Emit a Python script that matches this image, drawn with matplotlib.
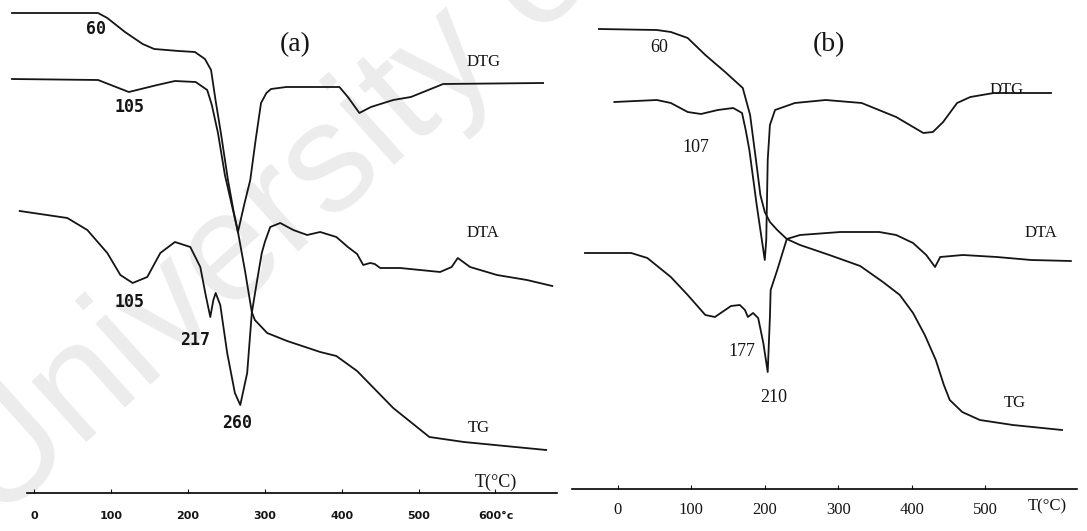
import matplotlib
matplotlib.use('Agg')
import matplotlib.pyplot as plt

# ---- panel (a): temperatures (deg C) and curve heights ----
tg_a_T = [-29, 83, 95, 118, 141, 156, 188, 209, 222, 230, 236, 243, 252, 259, 265, 274, 283, 287, 303, 329, 372, 393, 420, 467, 514, 559, 666]
tg_a_y = [13, 13, 18, 32, 44, 49, 51, 52, 59, 70, 101, 134, 180, 210, 232, 270, 312, 320, 333, 341, 352, 356, 371, 408, 437, 442, 450]

dtg_a_T = [-29, 83, 123, 160, 183, 210, 225, 231, 239, 248, 257, 265, 273, 281, 288, 295, 302, 308, 328, 397, 408, 423, 438, 467, 490, 532, 662]
dtg_a_y = [79, 80, 92, 85, 81, 82, 90, 105, 133, 175, 205, 232, 205, 180, 140, 103, 93, 89, 87, 87, 97, 113, 107, 100, 97, 84, 83]

dta_a_T = [-19, 43, 69, 95, 112, 128, 147, 164, 183, 203, 216, 223, 229, 233, 236, 242, 251, 261, 268, 277, 283, 290, 296,
           300, 307, 320, 337, 355, 372, 393, 408, 420, 428, 437, 443, 450, 476, 528, 543, 551, 567, 602, 641, 674]
dta_a_y = [211, 218, 230, 253, 275, 283, 277, 253, 242, 247, 267, 295, 317, 300, 293, 305, 353, 393, 405, 373, 313, 280, 253,
           242, 227, 223, 230, 235, 232, 237, 247, 254, 265, 263, 264, 268, 268, 272, 267, 258, 267, 275, 280, 286]

# ---- panel (b) ----
tg_b_T = [-26, 53, 72, 95, 119, 146, 170, 180, 188, 194, 200, 207, 217, 230, 248, 288, 330, 361, 384, 402, 418, 433, 444, 452, 469, 493, 538, 605]
tg_b_y = [29, 30, 32, 38, 55, 72, 88, 115, 160, 195, 212, 222, 230, 239, 245, 255, 266, 282, 295, 313, 335, 360, 385, 400, 412, 420, 425, 430]

dtg_b_T = [-5, 53, 72, 95, 113, 136, 157, 169, 174, 179, 189, 200, 202, 203, 204, 207, 214, 241, 283, 332, 379, 416, 429, 443, 462, 480, 512, 590]
dtg_b_y = [102, 100, 103, 112, 114, 110, 108, 113, 130, 150, 205, 260, 240, 200, 160, 125, 110, 103, 100, 103, 117, 133, 132, 122, 103, 97, 93, 93]

dta_b_T = [-45, 18, 40, 72, 95, 119, 132, 154, 166, 173, 177, 184, 191, 198, 204, 207, 208, 217, 230, 248, 303, 356, 379, 402, 420, 432, 439, 470, 516, 563, 617]
dta_b_y = [253, 253, 258, 277, 295, 315, 317, 306, 305, 310, 317, 313, 318, 343, 372, 317, 290, 270, 239, 235, 232, 232, 235, 243, 255, 267, 257, 255, 257, 260, 261]

ticks_a = [0, 100, 200, 300, 400, 500, 600]
ticklabels_a = ['0', '100', '200', '300', '400', '500', '600°c']
ticks_b = [0, 100, 200, 300, 400, 500]
ticklabels_b = ['0', '100', '200', '300', '400', '500']

fig = plt.figure(figsize=(10.87, 5.31), dpi=100)

# faint repository watermark behind the plots
fig.text(-0.004, 0.012, 'University of Malaya', rotation=42, rotation_mode='anchor', fontsize=112,
         color='#ececec', family='Liberation Sans', ha='left', va='baseline', zorder=-5)

ax_a = fig.add_axes([0, 0, 560 / 1087, 1])
ax_b = fig.add_axes([560 / 1087, 0, 527 / 1087, 1])

ink = '#151515'
for ax in (ax_a, ax_b):
    ax.patch.set_alpha(0)
    ax.set_ylim(531, 0)
    for s in ('top', 'left', 'right'):
        ax.spines[s].set_visible(False)
    ax.set_yticks([])

ax_a.set_xlim(-44.6, 684)
ax_b.set_xlim(-79, 639)

ax_a.plot(tg_a_T, tg_a_y, color=ink, lw=1.3)
ax_a.plot(dtg_a_T, dtg_a_y, color=ink, lw=1.3)
ax_a.plot(dta_a_T, dta_a_y, color=ink, lw=1.3)

ax_b.plot(tg_b_T, tg_b_y, color=ink, lw=1.3)
ax_b.plot(dtg_b_T, dtg_b_y, color=ink, lw=1.3)
ax_b.plot(dta_b_T, dta_b_y, color=ink, lw=1.3)

# temperature axes drawn as the bottom spine
ax_a.spines['bottom'].set_position(('data', 493))
ax_a.spines['bottom'].set_bounds(-10, 680)
ax_a.spines['bottom'].set_linewidth(1.2)
ax_a.set_xticks(ticks_a)
ax_a.set_xticklabels(ticklabels_a, fontsize=8, fontweight='bold', family='DejaVu Sans')
ax_a.tick_params(axis='x', direction='in', length=3, pad=13, colors=ink)

ax_b.spines['bottom'].set_position(('data', 489))
ax_b.spines['bottom'].set_bounds(-62, 625)
ax_b.spines['bottom'].set_linewidth(1.2)
ax_b.set_xticks(ticks_b)
ax_b.set_xticklabels(ticklabels_b, fontsize=12, family='Liberation Serif')
ax_b.tick_params(axis='x', direction='in', length=3, pad=9, colors=ink)

num = dict(fontsize=12, fontweight='bold', family='DejaVu Sans Mono', ha='center', va='center', color=ink)
ser = dict(fontsize=12, family='Liberation Serif', ha='center', va='center', color=ink)
ser13 = dict(fontsize=13, family='Liberation Serif', ha='center', va='center', color=ink)

ax_a.text(80, 29, '60', **num)
ax_a.text(124, 107, '105', **num)
ax_a.text(124, 302, '105', **num)
ax_a.text(209, 340, '217', **num)
ax_a.text(264, 423, '260', **num)
ax_a.text(340, 45, '(a)', fontsize=20, family='Liberation Serif', ha='center', va='center', color=ink)
ax_a.text(584, 62, 'DTG', **ser)
ax_a.text(584, 233, 'DTA', **ser)
ax_a.text(579, 428, 'TG', **ser)
ax_a.text(601, 482, 'T(°C)', **ser13)

ax_b.text(56, 48, '60', **ser13)
ax_b.text(106, 147, '107', **ser13)
ax_b.text(169, 352, '177', **ser13)
ax_b.text(212, 398, '210', **ser13)
ax_b.text(288, 45, '(b)', fontsize=20, family='Liberation Serif', ha='center', va='center', color=ink)
ax_b.text(530, 90, 'DTG', **ser)
ax_b.text(576, 233, 'DTA', **ser)
ax_b.text(541, 403, 'TG', **ser)
ax_b.text(585, 506, 'T(°C)', **ser)

plt.savefig('out.png', dpi=100)
